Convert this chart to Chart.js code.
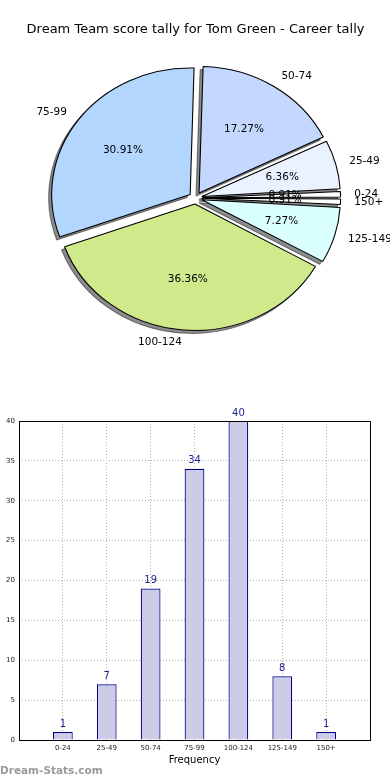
<!DOCTYPE html>
<html>
<head>
<meta charset="utf-8">
<script src="https://cdn.jsdelivr.net/npm/chart.js@4.4.0/dist/chart.umd.min.js"></script>
<style>
    body { margin: 0; background: #fff; width: 390px; height: 780px; position: relative; overflow: hidden; }
    #boxPizza { position: absolute; left: 0; top: 0; width: 390px; height: 400px; }
    #boxBarra { position: absolute; left: 0; top: 400px; width: 390px; height: 380px; }
    #marca { position: absolute; left: 0; top: 764px; font: bold 10.5px 'DejaVu Sans'; color: #9a9a9a; }
</style>
</head>
<body>
<div id="boxPizza"><canvas id="graficoPizza" width="390" height="400"></canvas></div>
<div id="boxBarra"><canvas id="graficoBarra" width="390" height="380"></canvas></div>
<div id="marca">Dream-Stats.com</div>
<script>
var titulo = 'Dream Team score tally for Tom Green - Career tally'
var faixas = ['0-24', '25-49', '50-74', '75-99', '100-124', '125-149', '150+']
var quantidades = [1, 7, 19, 34, 40, 8, 1]
var coresPizza = ['#ffffff', '#eaf1ff', '#c4d8ff', '#b3d6ff', '#d0e98b', '#d9ffff', '#ffffff']
var ticksY = [0, 5, 10, 15, 20, 25, 30, 35, 40]

var fonte = 'DejaVu Sans'
var esticaX = 1.095   // a pizza original sai achatada (elipse)
var explode = 6

// matplotlib comeca no leste e gira anti-horario, chart.js gira horario -> inverte
var faixasPizza = faixas.slice().reverse()
var quantPizza = quantidades.slice().reverse()
var coresPizzaInv = coresPizza.slice().reverse()

function transformaElipse(ctx, cx, cy) {
    ctx.translate(cx, cy)
    ctx.scale(esticaX, 1)
    ctx.translate(-cx, -cy)
}

const pluginPizza = {
    id: 'pluginPizza',
    beforeDatasetsDraw(chart) {
        var ctx = chart.ctx
        var meta = chart.getDatasetMeta(0)
        var raio = meta.controller.outerRadius
        // chart.js aumenta o raio das fatias pequenas quando tem offset, desfaz isso
        meta.data.forEach((arc) => {
            var circ = arc.endAngle - arc.startAngle
            var fix = 1 - Math.sin(Math.min(Math.PI, circ))
            arc.outerRadius = raio - explode * fix
        })
        var cx = meta.data[0].x
        var cy = meta.data[0].y

        // sombra: desenha as fatias fora da tela, so a sombra cai no lugar certo
        ctx.save()
        ctx.translate(-3000, 0)
        transformaElipse(ctx, cx, cy)
        ctx.shadowColor = 'rgba(0,0,0,0.45)'
        ctx.shadowOffsetX = 3000 - 3
        ctx.shadowOffsetY = 3
        meta.data.forEach((arc) => arc.draw(ctx))
        ctx.restore()

        ctx.save()
        transformaElipse(ctx, cx, cy)
    },
    afterDatasetsDraw(chart) {
        var ctx = chart.ctx
        ctx.restore()

        var meta = chart.getDatasetMeta(0)
        var raio = meta.controller.outerRadius
        var dados = chart.data.datasets[0].data
        var total = dados.reduce((a, b) => a + b, 0)

        ctx.save()
        ctx.font = '10.5px "' + fonte + '"'
        ctx.fillStyle = '#000'
        ctx.textBaseline = 'middle'
        meta.data.forEach((arc, i) => {
            var meio = (arc.startAngle + arc.endAngle) / 2
            var dx = Math.cos(meio) * esticaX
            var dy = Math.sin(meio)

            var px = arc.x + dx * (raio * 0.6 + explode)
            var py = arc.y + dy * (raio * 0.6 + explode)
            ctx.textAlign = 'center'
            ctx.fillText((dados[i] / total * 100).toFixed(2) + '%', px, py)

            var lx = arc.x + dx * (raio * 1.1 + explode)
            var ly = arc.y + dy * (raio * 1.1 + explode)
            ctx.textAlign = dx >= 0 ? 'left' : 'right'
            ctx.fillText(chart.data.labels[i], lx, ly)
        })
        ctx.restore()
    }
}

const pluginBarra = {
    id: 'pluginBarra',
    afterDatasetsDraw(chart) {
        var ctx = chart.ctx
        var meta = chart.getDatasetMeta(0)
        ctx.save()
        ctx.font = '10px "' + fonte + '"'
        ctx.fillStyle = '#1f1f8f'
        ctx.textAlign = 'center'
        ctx.textBaseline = 'bottom'
        meta.data.forEach((barra, i) => {
            ctx.fillText(quantidades[i], barra.x, barra.y - 3)
        })
        ctx.restore()
    },
    afterDraw(chart) { // moldura completa do grafico
        var a = chart.chartArea
        var ctx = chart.ctx
        ctx.save()
        ctx.strokeStyle = '#000'
        ctx.lineWidth = 1
        ctx.strokeRect(Math.round(a.left) + 0.5, Math.round(a.top) + 0.5, Math.round(a.right - a.left), Math.round(a.bottom - a.top))
        ctx.restore()
    }
}

new Chart(document.getElementById('graficoPizza'), {
    type: 'pie',
    data: {
        labels: faixasPizza,
        datasets: [{
            data: quantPizza,
            backgroundColor: coresPizzaInv,
            borderColor: '#000',
            borderWidth: 1,
            offset: explode * 4,
            radius: 126.5
        }]
    },
    options: {
        responsive: false,
        animation: false,
        rotation: 90,
        layout: { padding: { left: 1, right: 0, top: 0, bottom: 51.6 } },
        plugins: {
            legend: { display: false },
            tooltip: { enabled: false },
            title: {
                display: true,
                text: titulo,
                color: '#000',
                font: { family: fonte, size: 13, weight: 'normal' },
                padding: { top: 22, bottom: 10 }
            }
        }
    },
    plugins: [pluginPizza]
});

new Chart(document.getElementById('graficoBarra'), {
    type: 'bar',
    data: {
        datasets: [{
            data: quantidades.map((v, i) => ({ x: i, y: v })),
            backgroundColor: '#ccccE6',
            borderColor: '#00008b',
            borderWidth: 1.2,
            barPercentage: 0.45,
            categoryPercentage: 1
        }]
    },
    options: {
        responsive: false,
        animation: false,
        layout: { padding: { top: 21, right: 20, left: 0, bottom: 0 } },
        plugins: {
            legend: { display: false },
            tooltip: { enabled: false }
        },
        scales: {
            x: {
                type: 'linear',
                min: -1,
                max: 7,
                offset: false,
                z: 1,
                afterFit: (s) => { s.height = 40 },
                ticks: {
                    stepSize: 1,
                    autoSkip: false,
                    maxRotation: 0,
                    padding: 4,
                    color: '#222',
                    font: { family: fonte, size: 7 },
                    callback: (v) => faixas[v] || ''
                },
                grid: { color: '#b0b0b0', drawTicks: false, offset: false },
                border: { display: false, dash: [1, 2] },
                title: {
                    display: true,
                    text: 'Frequency',
                    color: '#000',
                    font: { family: fonte, size: 10 },
                    padding: { top: 0, bottom: 14 }
                }
            },
            y: {
                min: 0,
                max: 40,
                z: 1,
                afterFit: (s) => { s.width = 19 },
                afterBuildTicks: (s) => { s.ticks = ticksY.map((v) => ({ value: v })) },
                ticks: {
                    padding: 4,
                    color: '#222',
                    font: { family: fonte, size: 7 }
                },
                grid: { color: '#b0b0b0', drawTicks: false },
                border: { display: false, dash: [1, 2] }
            }
        }
    },
    plugins: [pluginBarra]
});
</script>
</body>
</html>
